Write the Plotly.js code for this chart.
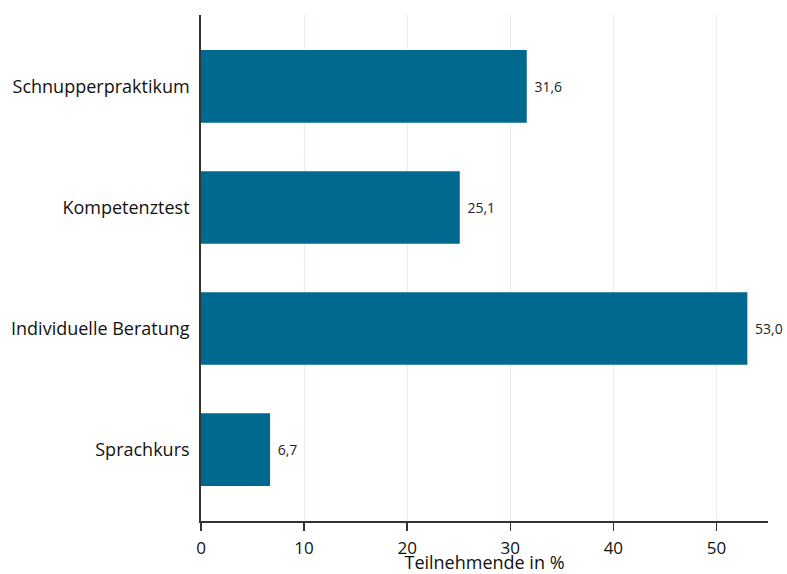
<!DOCTYPE html>
<html>
<head>
<meta charset="utf-8">
<script src="https://cdn.plot.ly/plotly-3.0.1.min.js"></script>
<style>
  html, body { margin: 0; padding: 0; background: #fff; }
  #chart { width: 787px; height: 574px; }
</style>
</head>
<body>
<div id="chart"></div>
<script>
// Angebote und Anteil der Teilnehmenden (von unten nach oben gezeichnet)
const categories = ['Sprachkurs', 'Individuelle Beratung', 'Kompetenztest', 'Schnupperpraktikum'];
const shares = [6.7, 53.0, 25.1, 31.6];
const xTicks = [0, 10, 20, 30, 40, 50];

const FONT = 'Open Sans, Noto Sans, sans-serif';

const trace = {
  type: 'bar',
  orientation: 'h',
  y: categories,
  x: shares,
  width: 0.6,
  marker: { color: '#00698f', line: { width: 0 } },
  // small leading space keeps the value a little away from the bar end
  texttemplate: '\u2004%{x:.1f}',
  textposition: 'outside',
  textfont: { family: FONT, size: 14, color: '#222' },
  cliponaxis: false,
  hoverinfo: 'none'
};

const layout = {
  width: 787,
  height: 574,
  margin: { l: 201, r: 19, t: 15, b: 53 },
  paper_bgcolor: '#fff',
  plot_bgcolor: '#fff',
  separators: ',.',
  showlegend: false,
  font: { family: FONT, color: '#111' },
  xaxis: {
    range: [0, 55],
    tickvals: xTicks,
    ticktext: xTicks.map(String),
    tickfont: { size: 17, color: '#111' },
    ticks: 'outside',
    ticklen: 8,
    tickwidth: 1.5,
    tickcolor: '#333',
    ticklabelstandoff: 3,
    showline: true,
    linecolor: '#333',
    linewidth: 1.8,
    showgrid: true,
    gridcolor: '#e4eef0',
    gridwidth: 1,
    zeroline: false,
    automargin: false,
    title: { text: 'Teilnehmende in %', font: { size: 18, color: '#111' }, standoff: 0 }
  },
  yaxis: {
    type: 'category',
    range: [-0.59, 3.59],
    tickfont: { size: 18, color: '#111' },
    ticks: 'outside',
    ticklen: 6,
    tickcolor: 'rgba(0,0,0,0)',
    showline: true,
    linecolor: '#333',
    linewidth: 1.8,
    showgrid: false,
    zeroline: false,
    automargin: false
  },
  bargap: 0.4
};

Plotly.newPlot('chart', [trace], layout, { staticPlot: true, displayModeBar: false });
</script>
</body>
</html>
